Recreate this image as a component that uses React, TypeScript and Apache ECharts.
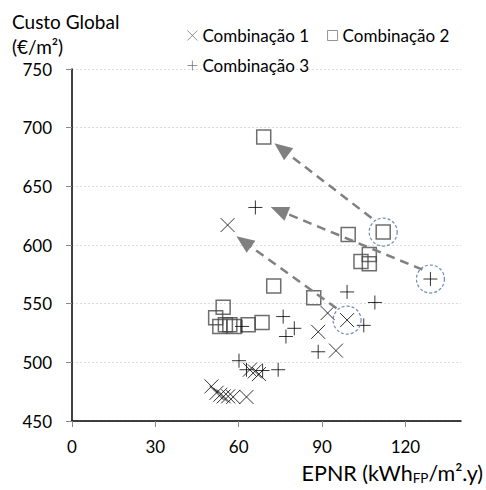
import React, { useEffect, useRef } from 'react';
import * as echarts from 'echarts';

// Combinação 1 (×)
const combo1: [number, number][] = [
  [56, 617], [99, 536], [92, 542], [88.6, 526], [95, 510],
  [50.2, 479.5], [52, 474], [53.4, 472.4], [54.6, 471], [56.2, 471], [58, 470.5], [62.8, 470.5],
  [64, 493.7], [65.8, 492.3], [67.3, 490],
];
// Combinação 2 (□)
const combo2: [number, number][] = [
  [69, 692], [72.6, 565], [87, 555], [112, 611], [99.4, 609], [107, 592], [104, 586], [107, 584],
  [54.4, 547], [51.7, 538], [53.2, 530.6], [55.2, 532], [56.8, 532], [58.3, 530.6], [63.4, 532], [68.4, 534],
];
// Combinação 3 (+)
const combo3: [number, number][] = [
  [66, 632], [129, 571], [99, 560], [109, 551], [76, 539], [80, 529], [77, 522], [88.6, 509], [105, 531.5],
  [61.2, 530.6], [60.1, 501.4], [62.8, 493.7], [74.2, 493.7], [68.6, 493],
];
// circled points
const highlighted: [number, number][] = [[112, 611], [129, 571], [99, 536]];
// arrows: [from, to]
const arrows: [number, number][][] = [
  [[107.8, 623], [75.4, 682]],
  [[126.1, 579], [74.5, 629.5]],
  [[95.2, 546], [61.8, 603]],
];
const xTicks = [0, 30, 60, 90, 120];
const yMin = 450;
const yMax = 750;
const yStep = 50;
const xMin = 0;
const xMax = 140;

const FONT = 'Lato';

export default function App() {
  const ref = useRef<HTMLDivElement>(null);
  useEffect(() => {
    if (!ref.current) return;
    const chart = echarts.init(ref.current, null, { renderer: 'svg' });
    const legendText = { fontSize: 17, fontFamily: FONT, color: '#000' };
    const legendItem = { borderWidth: 0.8, borderColor: '#555' };
    chart.setOption({
      animation: false,
      grid: { left: 72, right: 25, top: 69, bottom: 69, containLabel: false },
      legend: [
        {
          data: ['Combinação 1', 'Combinação 2'],
          left: 182, top: 22, itemGap: 18, itemWidth: 10, itemHeight: 10,
          selectedMode: false, textStyle: legendText, itemStyle: legendItem,
        },
        {
          data: ['Combinação 3'],
          left: 182, top: 52, itemWidth: 10, itemHeight: 10,
          selectedMode: false, textStyle: legendText, itemStyle: legendItem,
        },
      ],
      xAxis: {
        type: 'value', min: xMin, max: xMax,
        axisLine: { lineStyle: { color: '#000', width: 1.5 } },
        axisTick: { show: true, length: 6, lineStyle: { color: '#888' }, customValues: xTicks },
        axisLabel: { customValues: xTicks, fontSize: 17, fontFamily: FONT, color: '#000', margin: 17 },
        splitLine: { show: false },
      },
      yAxis: {
        type: 'value', min: yMin, max: yMax, interval: yStep,
        axisLine: { show: true, lineStyle: { color: '#000', width: 1.5 } },
        axisTick: { show: true, length: 6, lineStyle: { color: '#888' } },
        axisLabel: { fontSize: 17, fontFamily: FONT, color: '#000', margin: 20 },
        splitLine: { show: true, lineStyle: { color: '#dcdcdc', type: [2, 2], width: 1 } },
      },
      graphic: [
        {
          type: 'text', left: 12, top: 9,
          style: { text: 'Custo Global\n(€/m²)', fontSize: 19, fontFamily: FONT, fill: '#000', lineHeight: 25 },
        },
        {
          type: 'text', right: 3, top: 462,
          style: {
            text: '{m|EPNR (kWh}{s|FP}{m|/m².y)}',
            rich: {
              m: { fontSize: 21.5, fontFamily: FONT, fill: '#000', lineHeight: 24 },
              s: { fontSize: 13.5, fontFamily: FONT, fill: '#000', lineHeight: 13, verticalAlign: 'bottom' },
            },
          },
        },
      ],
      series: [
        {
          name: 'Combinação 1', type: 'scatter', data: combo1,
          symbol: 'path://M0,0L10,10M10,0L0,10', symbolSize: 14,
          itemStyle: { color: 'transparent', borderColor: '#000', borderWidth: 1 },
          emphasis: { disabled: true },
        },
        {
          name: 'Combinação 2', type: 'scatter', data: combo2,
          symbol: 'rect', symbolSize: 14,
          itemStyle: { color: 'transparent', borderColor: '#4a4a4a', borderWidth: 1.5 },
          emphasis: { disabled: true },
        },
        {
          name: 'Combinação 3', type: 'scatter', data: combo3,
          symbol: 'path://M5,0L5,10M0,5L10,5', symbolSize: 14,
          itemStyle: { color: 'transparent', borderColor: '#000', borderWidth: 1 },
          emphasis: { disabled: true },
        },
        {
          name: 'destaque', type: 'scatter', data: highlighted,
          symbol: 'circle', symbolSize: 28, silent: true,
          itemStyle: { color: 'transparent', borderColor: '#4a6fa8', borderWidth: 1.2, borderType: [3, 2] },
          emphasis: { disabled: true },
        },
        {
          name: 'setas', type: 'scatter', data: [], silent: true,
          markLine: {
            silent: true,
            symbol: ['none', 'triangle'],
            symbolSize: [15, 18],
            label: { show: false },
            emphasis: { disabled: true },
            lineStyle: { color: '#808080', type: [9, 6], width: 2.5 },
            itemStyle: { color: '#808080' },
            data: arrows.map(([a, b]) => [{ coord: a }, { coord: b }]),
          },
        },
      ],
    });
    return () => chart.dispose();
  }, []);
  return <div ref={ref} style={{ width: 486, height: 490, position: 'absolute', left: 0, top: 0 }} />;
}
